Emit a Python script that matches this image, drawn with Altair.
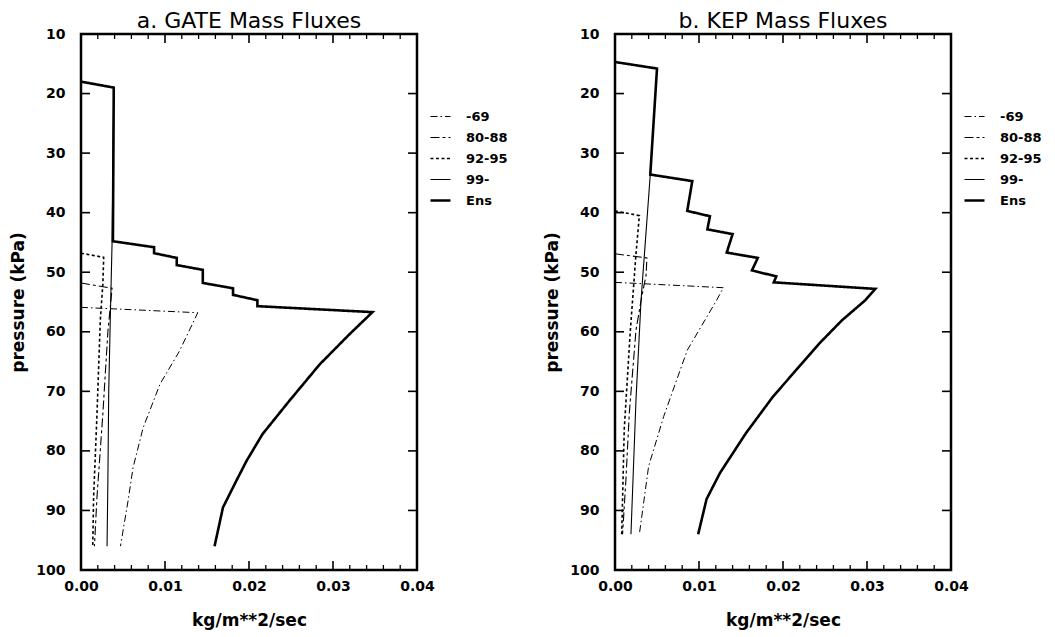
import altair as alt
import pandas as pd

series_names = ["-69", "80-88", "92-95", "99-", "Ens"]

# ---------------- a. GATE ----------------
gate_m69_p = [55.9, 56.8, 63.3, 68.8, 76.1, 82.8, 88.4, 96.0]
gate_m69_x = [0.0, 0.0139, 0.0117, 0.0094, 0.0074, 0.0062, 0.0056, 0.0047]

gate_80_p = [51.8, 52.7, 60.0, 73.8, 87.8, 96.0]
gate_80_x = [0.0, 0.0037, 0.0032, 0.0026, 0.0019, 0.0016]

gate_92_p = [46.8, 47.5, 52.0, 58.0, 74.0, 87.8, 96.0]
gate_92_x = [0.0, 0.0027, 0.0026, 0.0023, 0.0019, 0.0015, 0.0014]

gate_99_p = [18.0, 19.0, 45.0, 57.0, 70.0, 85.0, 96.0]
gate_99_x = [0.0, 0.0039, 0.0037, 0.0035, 0.0033, 0.0032, 0.0031]

gate_ens_p = [18.0, 19.0, 44.8, 45.8, 46.8, 47.6, 48.8, 49.6, 51.8, 52.7, 53.8,
              54.7, 55.7, 56.7, 60.5, 65.5, 71.6, 77.2, 81.7, 85.0, 89.5, 96.0]
gate_ens_x = [0.0, 0.0039, 0.0038, 0.0087, 0.0087, 0.0114, 0.0114, 0.0145, 0.0145,
              0.0181, 0.0181, 0.0210, 0.0210, 0.0347, 0.0319, 0.0284, 0.0248, 0.0216,
              0.0197, 0.0185, 0.0169, 0.0159]

# ---------------- b. KEP ----------------
kep_m69_p = [51.7, 52.6, 54.7, 63.1, 74.2, 82.6, 94.0]
kep_m69_x = [0.0, 0.0129, 0.0121, 0.0086, 0.0058, 0.0040, 0.0029]

kep_80_p = [46.9, 47.6, 50.5, 54.0, 59.7, 73.7, 84.8, 94.0]
kep_80_x = [0.0, 0.0038, 0.0037, 0.0032, 0.0025, 0.0017, 0.0013, 0.0009]

kep_92_p = [39.7, 40.5, 46.9, 60.3, 76.4, 94.0]
kep_92_x = [0.0, 0.0029, 0.0025, 0.0018, 0.0011, 0.0008]

kep_99_p = [14.7, 15.8, 33.6, 54.7, 71.4, 94.0]
kep_99_x = [0.0, 0.0050, 0.0042, 0.0031, 0.0025, 0.0019]

kep_ens_p = [14.7, 15.8, 33.6, 34.7, 39.7, 40.6, 42.8, 43.6, 46.7, 47.6, 49.7, 50.7,
             51.7, 52.8, 54.7, 58.1, 62.0, 70.9, 77.0, 83.7, 88.1, 94.0]
kep_ens_x = [0.0, 0.0050, 0.0042, 0.0092, 0.0086, 0.0113, 0.0110, 0.0140, 0.0133,
             0.0170, 0.0163, 0.0192, 0.0189, 0.0310, 0.0298, 0.0270, 0.0243, 0.0188,
             0.0156, 0.0125, 0.0109, 0.0099]

# axis ticks
x_major = [0.0, 0.01, 0.02, 0.03, 0.04]
x_minor = [0.002, 0.004, 0.006, 0.008, 0.012, 0.014, 0.016, 0.018, 0.022, 0.024,
           0.026, 0.028, 0.032, 0.034, 0.036, 0.038]
y_labels = [10, 20, 30, 40, 50, 60, 70, 80, 90, 100]
y_ticks = [20, 30, 40, 50, 60, 70, 80, 90]

W, H = 336, 536
FONT = "DejaVu Sans"


def make_df(parts):
    rows = []
    for name, ps, xs in parts:
        for i, (p, x) in enumerate(zip(ps, xs)):
            rows.append({"series": name, "p": p, "flux": x, "i": i})
    return pd.DataFrame(rows)


gate_df = make_df([
    ("-69", gate_m69_p, gate_m69_x),
    ("80-88", gate_80_p, gate_80_x),
    ("92-95", gate_92_p, gate_92_x),
    ("99-", gate_99_p, gate_99_x),
    ("Ens", gate_ens_p, gate_ens_x),
])
kep_df = make_df([
    ("-69", kep_m69_p, kep_m69_x),
    ("80-88", kep_80_p, kep_80_x),
    ("92-95", kep_92_p, kep_92_x),
    ("99-", kep_99_p, kep_99_x),
    ("Ens", kep_ens_p, kep_ens_x),
])

xscale = alt.Scale(domain=[0, 0.04], nice=False, zero=False)
yscale = alt.Scale(domain=[10, 100], reverse=True, nice=False, zero=False)

xaxis = alt.Axis(values=x_major, format=".2f", title="kg/m**2/sec",
                 ticks=False, domain=False, grid=False, labelFlush=False,
                 labelFont=FONT, labelFontSize=14, labelFontWeight="bold",
                 labelColor="black", labelPadding=9,
                 titleFont=FONT, titleFontSize=17, titleFontWeight="bold",
                 titleColor="black", titlePadding=19)
yaxis = alt.Axis(values=y_labels, title="pressure (kPa)",
                 ticks=False, domain=False, grid=False, labelFlush=False,
                 labelFont=FONT, labelFontSize=14, labelFontWeight="bold",
                 labelColor="black", labelPadding=16,
                 titleFont=FONT, titleFontSize=17, titleFontWeight="bold",
                 titleColor="black", titlePadding=8)

legend_kw = dict(title=None, orient="none", legendX=W + 12, legendY=72,
                 symbolType="stroke", symbolSize=400, symbolStrokeColor="black",
                 labelFont=FONT, labelFontSize=13, labelFontWeight="bold",
                 labelColor="black", labelOffset=14, clipHeight=21, rowPadding=0)

xmaj = pd.DataFrame({"t": x_major})
xmin = pd.DataFrame({"t": x_minor})
ytk = pd.DataFrame({"t": y_ticks})


def panel(df, title):
    lines = alt.Chart(df).mark_line(color="black", strokeCap="butt").encode(
        x=alt.X("flux:Q", scale=xscale, axis=xaxis),
        y=alt.Y("p:Q", scale=yscale, axis=yaxis),
        strokeDash=alt.StrokeDash("series:N",
                                  scale=alt.Scale(domain=series_names,
                                                  range=[[7, 3, 1.5, 3], [9, 3, 3, 3], [3, 2.5], [1, 0], [1, 0]]),
                                  legend=alt.Legend(**legend_kw)),
        strokeWidth=alt.StrokeWidth("series:N",
                                    scale=alt.Scale(type="ordinal", domain=series_names,
                                                    range=[1, 1.1, 1.6, 1.1, 2.6]),
                                    legend=alt.Legend(**legend_kw)),
        detail="series:N",
        order=alt.Order("i:Q"),
    )
    bx = alt.X("t:Q", scale=xscale, axis=None)
    by = alt.Y("t:Q", scale=yscale, axis=None)
    tick_layers = [
        alt.Chart(xmaj).mark_rule(color="black", strokeWidth=1.6).encode(x=bx, y=alt.value(H), y2=alt.value(H - 9)),
        alt.Chart(xmin).mark_rule(color="black", strokeWidth=1.3).encode(x=bx, y=alt.value(H), y2=alt.value(H - 5)),
        alt.Chart(xmaj).mark_rule(color="black", strokeWidth=1.6).encode(x=bx, y=alt.value(0), y2=alt.value(9)),
        alt.Chart(xmin).mark_rule(color="black", strokeWidth=1.3).encode(x=bx, y=alt.value(0), y2=alt.value(5)),
        alt.Chart(ytk).mark_rule(color="black", strokeWidth=1.6).encode(y=by, x=alt.value(0), x2=alt.value(9)),
        alt.Chart(ytk).mark_rule(color="black", strokeWidth=1.6).encode(y=by, x=alt.value(W), x2=alt.value(W - 9)),
    ]
    return alt.layer(*tick_layers, lines).resolve_axis(
        x="independent", y="independent"
    ).properties(
        width=W, height=H,
        title=alt.TitleParams(title, font=FONT, fontSize=22, fontWeight="normal",
                              color="black", anchor="middle", offset=-6),
    )


chart = alt.hconcat(
    panel(gate_df, "a. GATE Mass Fluxes"),
    panel(kep_df, "b. KEP Mass Fluxes"),
    spacing=32,
).resolve_scale(
    strokeDash="independent", strokeWidth="independent"
).resolve_legend(
    strokeDash="independent", strokeWidth="independent"
).properties(
    padding=0
).configure_view(
    stroke="black", strokeWidth=2.5
)

chart.save("out.html", embed_options={"renderer": "svg", "actions": False})
